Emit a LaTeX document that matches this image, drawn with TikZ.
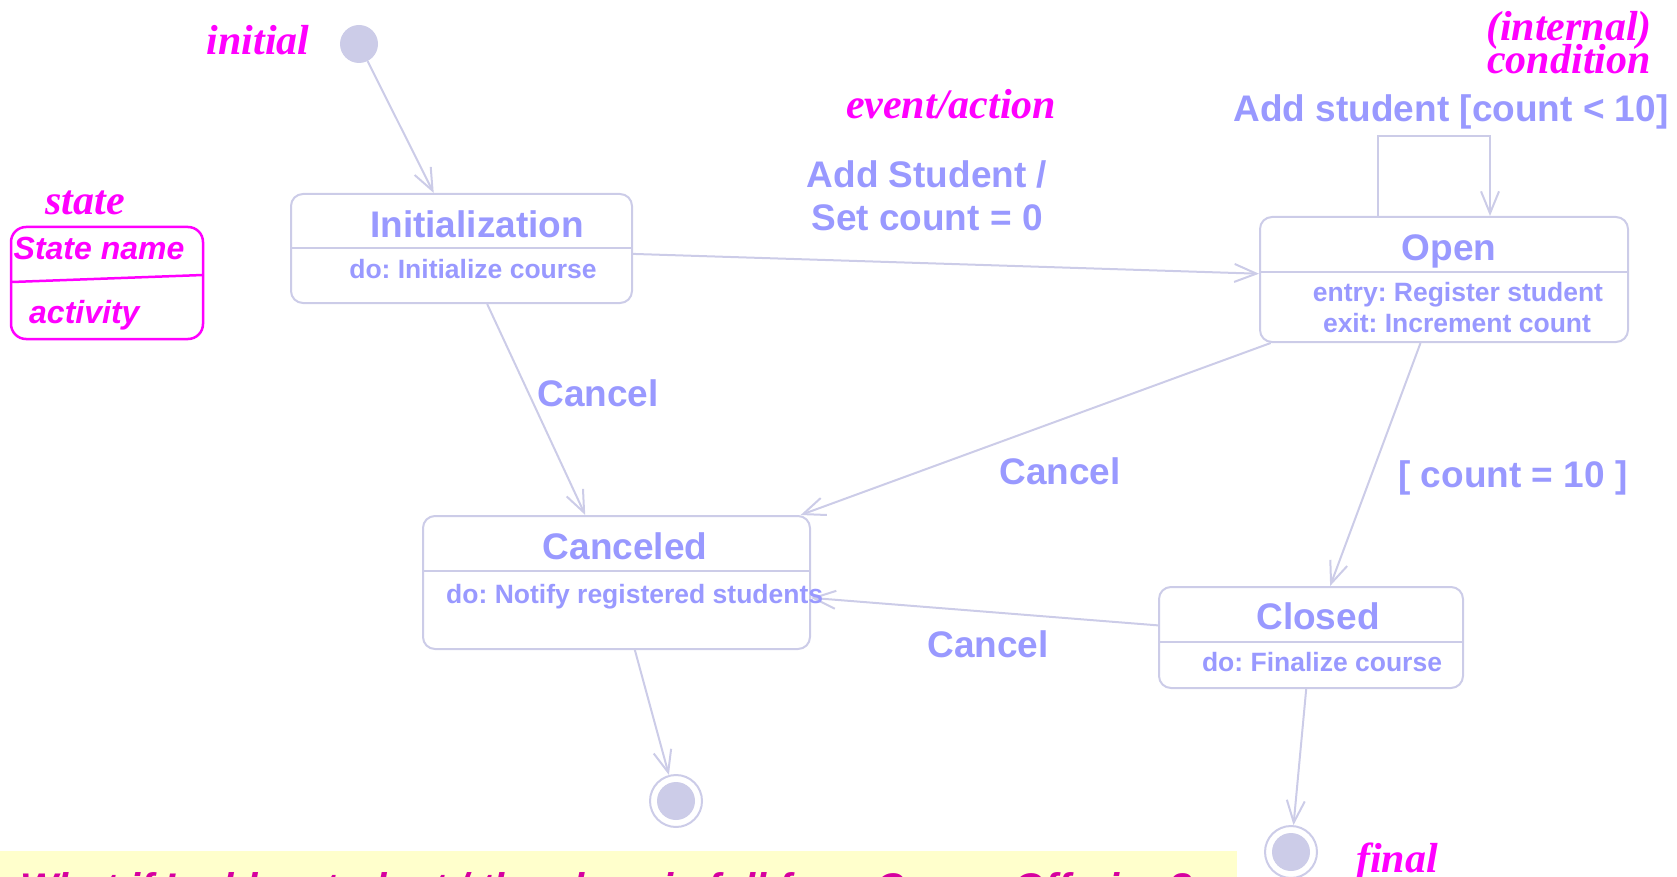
\documentclass[tikz,border=0pt]{standalone}
\usepackage{fontspec}
\setmainfont{Liberation Sans}
\newfontfamily\timesf{Liberation Serif}
\usetikzlibrary{arrows.meta}
\definecolor{lav}{RGB}{204,204,232}
\definecolor{stxt}{RGB}{153,153,255}
\definecolor{mag}{RGB}{255,0,255}
\definecolor{bandy}{RGB}{255,255,204}
\definecolor{bandt}{RGB}{214,0,160}
\frenchspacing
\tikzset{
  statebox/.style={draw=lav, line width=2pt, rounded corners=12pt, fill=white, inner sep=0pt},
  divline/.style={draw=lav, line width=2pt},
  trans/.style={draw=lav, line width=2pt, -{Straight Barb[length=22pt,width=18pt]}},
  bigtxt/.style={text=stxt, inner sep=0pt, anchor=base, font=\fontsize{37}{40}\selectfont\bfseries},
  smalltxt/.style={text=stxt, inner sep=0pt, anchor=base, font=\fontsize{26.5}{30}\selectfont\bfseries},
  annot/.style={text=mag, inner sep=0pt, anchor=base, font=\timesf\fontsize{42}{46}\selectfont\bfseries\itshape},
  legtxt/.style={text=mag, inner sep=0pt, anchor=base west, font=\fontsize{32}{36}\selectfont\bfseries\itshape},
  initdot/.style={circle, fill=lav, minimum size=38pt, inner sep=0pt},
  finring/.style={circle, draw=lav, line width=2pt, fill=white, minimum size=52pt, inner sep=0pt},
}
\begin{document}
\begin{tikzpicture}[x=1pt,y=-1pt]
\useasboundingbox (0,0) rectangle (1677,877);

% legend
\node[annot] (lstate) at (85,215) {state};
\node[draw=mag, line width=2.5pt, rounded corners=15pt, minimum width=192pt, minimum height=112pt, inner sep=0pt] (legend) at (107,283) {};
\draw[mag, line width=2.5pt] (12,282) -- (203,275);
\node[legtxt] (lname) at (13.5,259) {State name};
\node[legtxt] (lact) at (29,323) {activity};

% initial
\node[annot] (linit) at (258,55) {initial};
\node[initdot] (ini) at (359,44) {};

% states
\node[statebox, minimum width=341pt, minimum height=109pt] (init) at (461.5,248.5) {};
\draw[divline] (291,248) -- (632,248);
\node[bigtxt] (initT) at (477,238) {Initialization};
\node[smalltxt] (initD) at (473,278) {do: Initialize course};

\node[statebox, minimum width=368pt, minimum height=125pt] (open) at (1444,279.5) {};
\draw[divline] (1260,272) -- (1628,272);
\node[bigtxt] (openT) at (1449,260) {Open};
\node[smalltxt] (openE) at (1458,301) {entry: Register student};
\node[smalltxt] (openX) at (1457,332) {exit: Increment count};

\node[statebox, minimum width=387pt, minimum height=133pt] (canc) at (616.5,582.5) {};
\draw[divline] (423,571) -- (810,571);
\node[bigtxt] (cancT) at (625,559) {Canceled};

\node[statebox, minimum width=304pt, minimum height=101pt] (clos) at (1311,637.5) {};
\draw[divline] (1159,642) -- (1463,642);
\node[bigtxt] (closT) at (1318,629) {Closed};
\node[smalltxt] (closD) at (1322,671) {do: Finalize course};

% finals
\node[finring] (fin1) at (676,801) {};
\node[initdot] (fin1i) at (fin1) {};
\node[finring] (fin2) at (1291,852) {};
\node[initdot] (fin2i) at (fin2) {};

% transitions
\draw[trans] (ini) -- (init);
\draw[trans] (init) -- (open);
\draw[trans] (init) -- (canc);
\draw[trans] (open) -- (canc);
\draw[trans] (open) -- (clos);
\draw[trans] (clos) -- (canc);
\draw[trans] (canc) -- (fin1);
\draw[trans] (clos) -- (fin2);
\draw[trans] ([xshift=-66pt]open.north) -- ++(0,-80) -| ([xshift=46pt]open.north);

% text drawn over the Closed->Canceled arrow end
\node[smalltxt, anchor=base west] (cancD) at (446,603) {do: Notify registered students};

% labels
\node[bigtxt] (l1a) at (927,188) {Add Student /};
\node[bigtxt] (l1b) at (927,231) {Set count = 0};
\node[annot] (levt) at (951,119) {event/action};
\node[bigtxt] (lself) at (1451,122) {Add student [count < 10]};
\node[annot] (lint1) at (1569,41) {(internal)};
\node[annot] (lint2) at (1569,74) {condition};
\node[bigtxt] (lc1) at (598,406) {Cancel};
\node[bigtxt] (lc2) at (1060,484) {Cancel};
\node[bigtxt] (lc3) at (988,657) {Cancel};
\node[bigtxt] (lcnt) at (1513,487) {[ count = 10 ]};
\node[annot, anchor=base west] (lfin) at (1356,872) {final};

% question band
\fill[bandy] (0,851) rectangle (1237,877);
\begin{scope}
\clip (0,851) rectangle (1237,877);
\node[text=bandt, inner sep=0pt, anchor=base west, font=\fontsize{40}{48}\selectfont\bfseries\itshape] (q) at (20,901) {What if I add a student / the class is full for a CourseOffering?};
\end{scope}
\end{tikzpicture}
\end{document}
